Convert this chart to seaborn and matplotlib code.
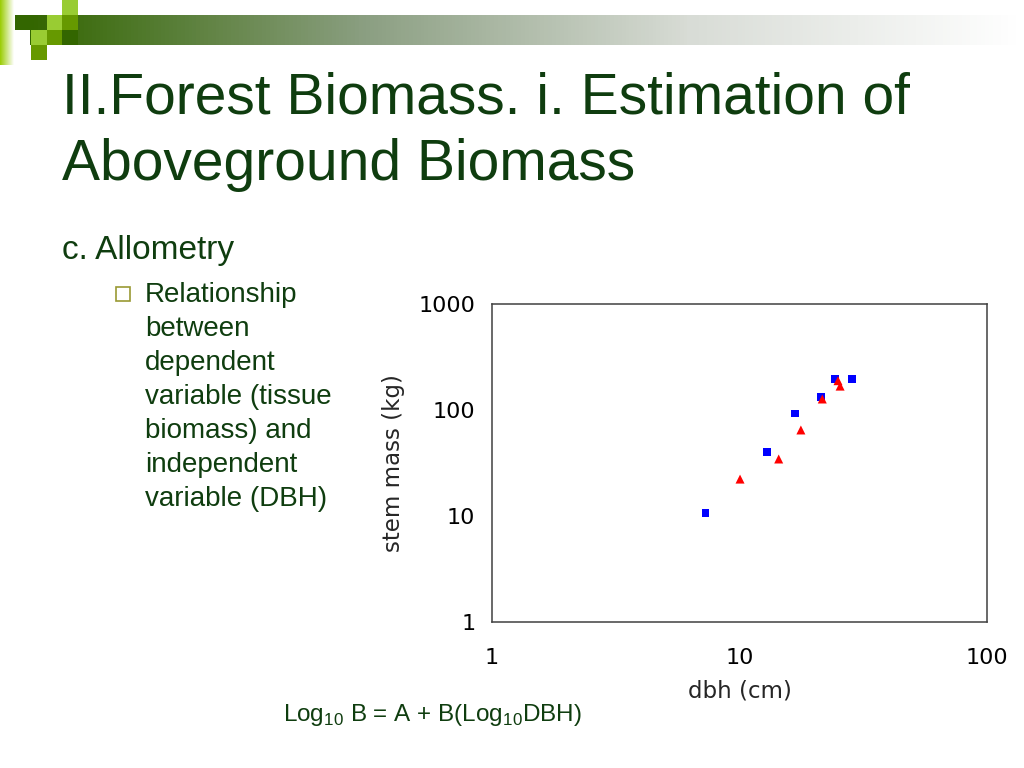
import numpy as np
import pandas as pd
import matplotlib
matplotlib.use("Agg")
import matplotlib.pyplot as plt
from matplotlib.patches import Rectangle
from matplotlib.colors import LinearSegmentedColormap
import seaborn as sns

# stem mass vs dbh, two groups
dbh_square = [7.3, 12.9, 16.8, 21.3, 24.3, 28.5]
mass_square = [10.7, 40.4, 93, 132, 196, 196]
dbh_triangle = [10.05, 14.4, 17.7, 21.6, 25.0, 25.5]
mass_triangle = [22.3, 34.5, 64.8, 127, 189, 168]

x_ticks = [1, 10, 100]
y_ticks = [1, 10, 100, 1000]

bullet_lines = ["Relationship", "between", "dependent", "variable (tissue",
                "biomass) and", "independent", "variable (DBH)"]

green_text = "#0f3d0f"

sns.set_style("white")
plt.rcParams['font.family'] = ['DejaVu Sans']

df = pd.DataFrame({
    "dbh": dbh_square + dbh_triangle,
    "mass": mass_square + mass_triangle,
    "group": ["square"] * len(dbh_square) + ["triangle"] * len(dbh_triangle),
})

fig = plt.figure(figsize=(10.24, 7.68), dpi=100)
W, H = 1024, 768

def px_rect(x0, y0, x1, y1, color):
    # rectangle given in image pixels (top-left origin)
    fig.add_artist(Rectangle((x0 / W, 1 - y1 / H), (x1 - x0) / W, (y1 - y0) / H,
                             transform=fig.transFigure, color=color, lw=0))

# header decoration: gradient bar and green squares
grad = np.linspace(0, 1, 256)[None, :]
bar = fig.add_axes([30 / W, 1 - 45 / H, 990 / W, 30 / H])
bar_cmap = LinearSegmentedColormap.from_list("bar", ["#336600", "#8a9e80", "#d8dcd6", "#ffffff"])
bar.imshow(grad, aspect="auto", cmap=bar_cmap)
bar.axis("off")

strip = fig.add_axes([0, 1 - 65 / H, 14 / W, 65 / H])
strip.imshow(grad, aspect="auto", cmap=LinearSegmentedColormap.from_list("s", ["#99cc00", "#ffffff"]))
strip.axis("off")

px_rect(15, 15, 30, 30, "#336600")
px_rect(62, 0, 78, 15, "#99cc33")
px_rect(47, 15, 62, 30, "#99cc33")
px_rect(62, 15, 78, 30, "#669900")
px_rect(31, 30, 47, 45, "#99cc33")
px_rect(47, 30, 62, 45, "#669900")
px_rect(62, 30, 78, 45, "#336600")
px_rect(31, 45, 47, 60, "#669900")

# slide text
fig.text(62 / W, 1 - 98 / H, "II.Forest Biomass. i. Estimation of", fontsize=41,
         family="Liberation Sans", color=green_text, va="center")
fig.text(62 / W, 1 - 165 / H, "Aboveground Biomass", fontsize=41,
         family="Liberation Sans", color=green_text, va="center")
fig.text(62 / W, 1 - 250 / H, "c. Allometry", fontsize=24,
         family="Liberation Sans", color=green_text, va="center")
fig.add_artist(Rectangle((116 / W, 1 - 301 / H), 14 / W, 14 / H, transform=fig.transFigure,
                         facecolor="none", edgecolor="#999933", lw=1.2))
for i, line in enumerate(bullet_lines):
    fig.text(145 / W, 1 - (295 + i * 34) / H, line, fontsize=20,
             family="Liberation Sans", color=green_text, va="center")

fig.text(283 / W, 1 - 715 / H, r"Log$_\mathregular{10}$ B = A + B(Log$_\mathregular{10}$DBH)",
         fontsize=17.5, family="Liberation Sans", color=green_text, va="center")

# chart
ax = fig.add_axes([492 / W, 1 - 622 / H, 495 / W, 318 / H])
sns.scatterplot(data=df, x="dbh", y="mass", hue="group", style="group", size="group",
                palette={"square": "#0000ff", "triangle": "#ff0000"},
                markers={"square": "s", "triangle": "^"},
                sizes={"square": 30, "triangle": 42},
                linewidth=0, legend=False, ax=ax)
ax.set_xscale("log")
ax.set_yscale("log")
ax.set_xlim(1, 100)
ax.set_ylim(1, 1000)
ax.set_xticks(x_ticks)
ax.set_xticklabels([str(t) for t in x_ticks])
ax.set_yticks(y_ticks)
ax.set_yticklabels([str(t) for t in y_ticks])
ax.minorticks_off()
ax.tick_params(axis="both", direction="in", length=5, width=0.8, labelsize=16, colors="#333333",
               labelcolor="black")
ax.tick_params(axis="y", pad=12)
ax.tick_params(axis="x", pad=19)
ax.set_xlabel("dbh (cm)", fontsize=16.5, labelpad=8)
ax.set_ylabel("stem mass (kg)", fontsize=16.5, labelpad=10)
for sp in ax.spines.values():
    sp.set_color("#404040")
    sp.set_linewidth(1.1)

fig.savefig("out.png", dpi=100)
